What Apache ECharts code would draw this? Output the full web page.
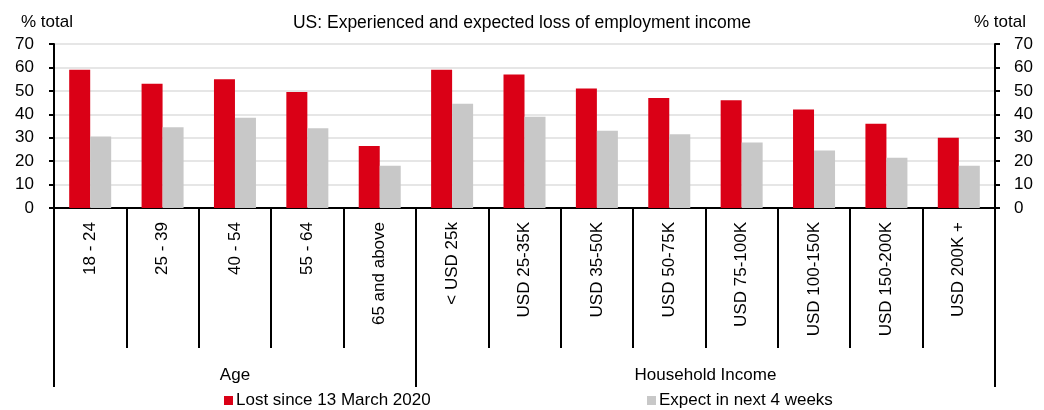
<!DOCTYPE html>
<html>
<head>
<meta charset="utf-8">
<script src="https://cdn.jsdelivr.net/npm/echarts@6/dist/echarts.min.js"></script>
<style>
  html, body { margin: 0; padding: 0; background: #fff; }
  #chart { width: 1044px; height: 410px; }
</style>
</head>
<body>
<div id="chart"></div>
<script>
// Share of respondents (% total) by age band and household income
const categories = [
  '18 - 24', '25 - 39', '40 - 54', '55 - 64', '65 and above',
  '< USD 25k', 'USD 25-35K', 'USD 35-50K', 'USD 50-75K', 'USD 75-100K',
  'USD 100-150K', 'USD 150-200K', 'USD 200K +'
];
const groupNames = ['Age', 'Household Income'];
const groupSizes = [5, 8];
const lostSince = [59, 53, 55, 49.5, 26.5, 59, 57, 51, 47, 46, 42, 36, 30];
const expectNext = [30.5, 34.5, 38.5, 34, 18, 44.5, 39, 33, 31.5, 28, 24.5, 21.5, 18];
const seriesNames = ['Lost since 13 March 2020', 'Expect in next 4 weeks'];
const yMin = 0, yMax = 70, yStep = 10;

const FONT = '"Liberation Sans", Arial, sans-serif';
const FS = 17;
const RED = '#da0016';
const GREY = '#c8c8c8';

// indices where each group begins
const groupStarts = [];
groupSizes.reduce((acc, n) => { groupStarts.push(acc); return acc + n; }, 0);

const chart = echarts.init(document.getElementById('chart'), null, { renderer: 'canvas' });

const yAxisCommon = {
  type: 'value', min: yMin, max: yMax, interval: yStep,
  axisLine: { show: true, lineStyle: { color: '#000', width: 2 } },
  axisTick: { show: true, length: 5, lineStyle: { color: '#000', width: 2 } },
  axisLabel: { color: '#000', fontSize: FS, fontFamily: FONT, margin: 19 },
  name: '% total', nameLocation: 'end', nameGap: 13,
  nameTextStyle: { color: '#000', fontSize: FS, fontFamily: FONT, align: 'center' }
};

chart.setOption({
  animation: false,
  title: {
    text: 'US: Experienced and expected loss of employment income',
    left: 'center', top: 9,
    textStyle: { color: '#000', fontSize: 17.5, fontWeight: 'normal', fontFamily: FONT }
  },
  legend: [
    {
      data: [seriesNames[0]], left: 219, top: 387, icon: 'rect',
      itemWidth: 9, itemHeight: 9, itemGap: 5,
      textStyle: { color: '#000', fontSize: FS, fontFamily: FONT, padding: [0, 0, 0, -2] }
    },
    {
      data: [seriesNames[1]], left: 642, top: 387, icon: 'rect',
      itemWidth: 9, itemHeight: 9, itemGap: 5,
      textStyle: { color: '#000', fontSize: FS, fontFamily: FONT, padding: [0, 0, 0, -2] }
    }
  ],
  grid: { left: 54, right: 49, top: 44, bottom: 202, containLabel: false },
  xAxis: [
    {
      type: 'category', data: categories, position: 'bottom',
      axisLine: { show: true, lineStyle: { color: '#000', width: 2 } },
      axisTick: { show: true, interval: 0, length: 140, lineStyle: { color: '#000', width: 2 } },
      axisLabel: {
        interval: 0, rotate: 90, margin: 14,
        color: '#000', fontSize: FS, fontFamily: FONT
      }
    },
    {
      // longer separators between the two groups
      type: 'category', data: categories, position: 'bottom',
      axisLine: { show: false },
      axisTick: {
        show: true, length: 179,
        interval: (i) => groupStarts.includes(i),
        lineStyle: { color: '#000', width: 2 }
      },
      axisLabel: { show: false }
    }
  ],
  yAxis: [
    Object.assign({}, yAxisCommon, {
      position: 'left',
      axisLabel: Object.assign({}, yAxisCommon.axisLabel, { margin: 20 }),
      splitLine: { show: true, lineStyle: { color: '#dedede', width: 1.5 } },
      nameTextStyle: Object.assign({}, yAxisCommon.nameTextStyle, { padding: [0, 14, 0, 0] })
    }),
    Object.assign({}, yAxisCommon, {
      position: 'right',
      splitLine: { show: false },
      nameTextStyle: Object.assign({}, yAxisCommon.nameTextStyle, { padding: [0, 0, 0, 10] })
    })
  ],
  series: [
    {
      name: seriesNames[0], type: 'bar', data: lostSince,
      xAxisIndex: 0, yAxisIndex: 0,
      barWidth: 21, barGap: '0%',
      itemStyle: { color: RED }
    },
    {
      name: seriesNames[1], type: 'bar', data: expectNext,
      xAxisIndex: 0, yAxisIndex: 0,
      barWidth: 21, barGap: '0%',
      itemStyle: { color: GREY }
    }
  ]
});

// Group captions centred under each block of categories
const groupLabels = [];
let start = 0;
groupNames.forEach((name, g) => {
  const end = start + groupSizes[g] - 1;
  const x0 = chart.convertToPixel({ xAxisIndex: 0 }, start);
  const x1 = chart.convertToPixel({ xAxisIndex: 0 }, end);
  const baseY = chart.convertToPixel({ yAxisIndex: 0 }, yMin);
  groupLabels.push({
    type: 'text',
    x: (x0 + x1) / 2, y: baseY + 167,
    style: {
      text: name, fill: '#000', fontSize: FS, fontFamily: FONT,
      align: 'center', verticalAlign: 'middle'
    }
  });
  start = end + 1;
});
chart.setOption({ graphic: groupLabels });
</script>
</body>
</html>
